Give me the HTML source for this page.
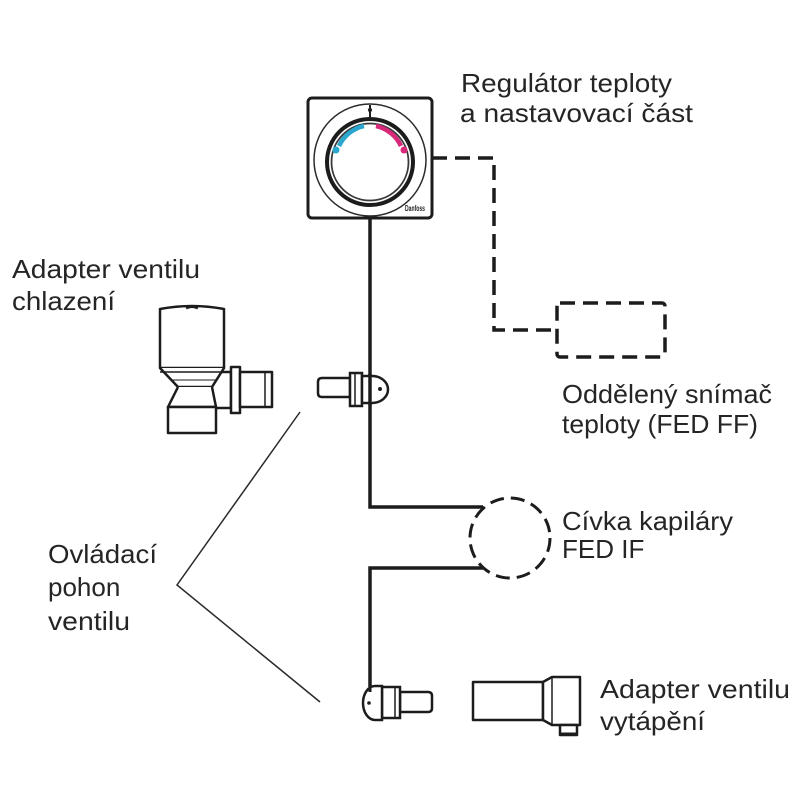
<!DOCTYPE html>
<html>
<head>
<meta charset="utf-8">
<style>
html,body{margin:0;padding:0;background:#fff;}
svg{display:block;}
text{font-family:"Liberation Sans",Arial,sans-serif;fill:#252525;}
</style>
</head>
<body>
<svg width="800" height="800" viewBox="0 0 800 800" xmlns="http://www.w3.org/2000/svg">
<rect width="800" height="800" fill="#fff"/>

<!-- Labels -->
<text x="461" y="92" font-size="26" textLength="211" lengthAdjust="spacingAndGlyphs">Regulátor teploty</text>
<text x="460" y="122" font-size="26" textLength="233" lengthAdjust="spacingAndGlyphs">a nastavovací část</text>

<text x="12" y="278" font-size="26" textLength="188" lengthAdjust="spacingAndGlyphs">Adapter ventilu</text>
<text x="12" y="310" font-size="26" textLength="103" lengthAdjust="spacingAndGlyphs">chlazení</text>

<text x="562" y="403" font-size="26" textLength="210" lengthAdjust="spacingAndGlyphs">Oddělený snímač</text>
<text x="562" y="433" font-size="26" textLength="196" lengthAdjust="spacingAndGlyphs">teploty (FED FF)</text>

<text x="562" y="530" font-size="26" textLength="171" lengthAdjust="spacingAndGlyphs">Cívka kapiláry</text>
<text x="562" y="558" font-size="26">FED IF</text>

<text x="48" y="563" font-size="26" textLength="109" lengthAdjust="spacingAndGlyphs">Ovládací</text>
<text x="48" y="596" font-size="26">pohon</text>
<text x="48" y="630" font-size="26" textLength="82" lengthAdjust="spacingAndGlyphs">ventilu</text>

<text x="600" y="698" font-size="26" textLength="190" lengthAdjust="spacingAndGlyphs">Adapter ventilu</text>
<text x="600" y="730" font-size="26" textLength="105" lengthAdjust="spacingAndGlyphs">vytápění</text>

<!-- Solid capillary lines -->
<g fill="none" stroke="#1c1c1c" stroke-width="3.5" stroke-linejoin="miter">
  <path d="M370,218 V507 H483"/>
  <path d="M483,568 H370 V687"/>
</g>

<!-- Dashed connection to remote sensor -->
<g fill="none" stroke="#1c1c1c" stroke-width="3.5" stroke-dasharray="15 8">
  <path d="M432,158 H494 V330 H557"/>
  <rect x="557" y="303" width="108" height="54" rx="3"/>
</g>
<!-- Coil -->
<circle cx="510" cy="538" r="40" fill="none" stroke="#1c1c1c" stroke-width="3" stroke-dasharray="14 7"/>

<!-- Leader lines -->
<path d="M300,412 L177,585 L320,702" fill="none" stroke="#2a2a2a" stroke-width="1.5"/>

<!-- Regulator -->
<rect x="308" y="98" width="124" height="120" rx="4" fill="#fff" stroke="#1c1c1c" stroke-width="3"/>
<circle cx="370" cy="160" r="56" fill="none" stroke="#2a2a2a" stroke-width="1.5"/>
<circle cx="370" cy="162" r="43" fill="#fff" stroke="#1c1c1c" stroke-width="4"/>
<circle cx="370" cy="162" r="38.5" fill="none" stroke="#3a3a3a" stroke-width="1.8"/>
<path d="M339,146 A36,36 0 0 1 364,126" fill="none" stroke="#2aa6cf" stroke-width="4.5"/>
<path d="M376,126 A36,36 0 0 1 401,146" fill="none" stroke="#d8287a" stroke-width="4.5"/>
<circle cx="336" cy="150" r="3.5" fill="#2aa6cf"/>
<circle cx="404" cy="150" r="3.5" fill="#d8287a"/>
<path d="M370,105 V117" stroke="#1c1c1c" stroke-width="2"/>
<circle cx="370" cy="110" r="2" fill="#1c1c1c"/>
<text x="405" y="211" font-size="8" font-weight="bold" style="fill:#1c1c1c" textLength="20" lengthAdjust="spacingAndGlyphs">Danfoss</text>

<!-- Upper actuator -->
<g fill="#fff" stroke="#1c1c1c" stroke-width="2.5">
  <path d="M350,378 H322 Q318,378 318,382 V393 Q318,397 322,397 H350 Z"/>
  <rect x="350" y="373" width="12" height="33"/>
  <path d="M362,376 H372 A16,13.5 0 0 1 372,403 H362 Z"/>
</g>
<path d="M355,374 V405" stroke="#1c1c1c" stroke-width="1.5"/>
<path d="M370,374 V405" stroke="#1c1c1c" stroke-width="3.5"/>
<circle cx="380" cy="389" r="2" fill="#1c1c1c"/>

<!-- Lower actuator -->
<g fill="#fff" stroke="#1c1c1c" stroke-width="2.5">
  <path d="M400,692 H428 Q432,692 432,696 V708 Q432,712 428,712 H400 Z"/>
  <rect x="382" y="687" width="18" height="31"/>
  <path d="M382,686 H375 A12,17 0 0 0 375,720 H382 Z"/>
</g>
<path d="M395,688 V717" stroke="#1c1c1c" stroke-width="1.5"/>
<path d="M370,686 V692" stroke="#1c1c1c" stroke-width="3"/>
<circle cx="369" cy="703" r="1.8" fill="#1c1c1c"/>

<!-- Heating valve adapter -->
<g fill="#fff" stroke="#1c1c1c" stroke-width="2.5" stroke-linejoin="round">
  <rect x="473" y="682" width="70" height="38"/>
  <path d="M543,682 L552,677 H580 V725 H552 L543,720 Z"/>
  <rect x="560" y="725" width="17" height="10"/>
</g>
<path d="M552,678 V724" stroke="#1c1c1c" stroke-width="1.5"/>
<path d="M561,734 H576" stroke="#1c1c1c" stroke-width="3"/>

<!-- Cooling valve adapter -->
<g fill="#fff" stroke="#1c1c1c" stroke-width="2.5" stroke-linejoin="round">
  <rect x="210" y="372" width="21" height="36"/>
  <path d="M160,309 Q192,303 224,309 V368 H160 Z"/>
  <path d="M160,368 L178,387 H212 L224,368"/>
  <path d="M178,387 L168,407 H216 L212,387"/>
  <rect x="168" y="407" width="48" height="26"/>
  <rect x="231" y="367" width="9" height="46"/>
  <rect x="240" y="372" width="32" height="35"/>
</g>
<path d="M160,372 H224" stroke="#1c1c1c" stroke-width="1.5"/>
<path d="M172,380 H216" stroke="#1c1c1c" stroke-width="1"/>
<path d="M265,373 V406" stroke="#1c1c1c" stroke-width="1.5"/>
<path d="M186,308 Q192,305 198,308" stroke="#1c1c1c" stroke-width="3" fill="none"/>
</svg>
</body>
</html>
